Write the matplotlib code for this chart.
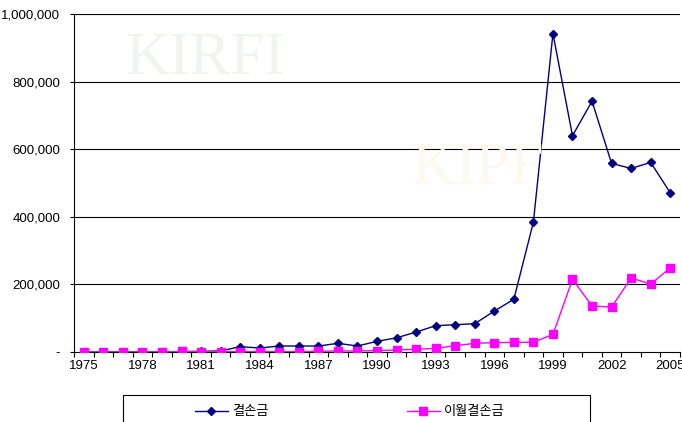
import matplotlib.pyplot as plt
import numpy as np
from matplotlib.ticker import FuncFormatter
from matplotlib.patches import Rectangle

plt.rcParams['font.family'] = ['Liberation Sans', 'Noto Sans CJK KR']

# data
years = list(range(1975, 2006))
loss = [0, 0, 0, 0, 0, 1000, 2000, 3000, 15800, 11800, 17700, 17700, 17700,
        25700, 17700, 31600, 42000, 59000, 77800, 80800, 83700, 121000,
        156000, 384000, 942000, 640000, 742000, 558000, 543000, 561000, 471000]
carried = [0, 0, 0, 0, 0, 1500, 1000, 1000, 1000, 1000, 1000, 1000, 2000,
           3000, 3000, 4000, 6000, 7900, 10800, 18700, 25600, 27600,
           28700, 28700, 52000, 215000, 136000, 133000, 219000, 201000, 249000]
labels = ['결손금', '이월결손금']

x = np.arange(len(years))

fig = plt.figure(figsize=(6.82, 4.22), dpi=100)
ax = fig.add_axes([74/682, 1 - 352/422, 606/682, 338/422])

# faint watermark
fig.text(0.30, 0.86, 'KIRFI', fontsize=44, color='#f2f5ef', family='Liberation Serif',
         ha='center', va='center', zorder=0)
fig.text(0.70, 0.60, 'KIPF', fontsize=44, color='#fdf9ee', family='Liberation Serif',
         ha='center', va='center', zorder=0)

for v in range(200000, 1000001, 200000):
    ax.axhline(v, color='black', lw=0.8, zorder=1)

ax.plot(x, loss, color='#000080', marker='D', markersize=4.5, lw=1, label=labels[0], zorder=3)
ax.plot(x, carried, color='#ff00ff', marker='s', markersize=6, lw=1, label=labels[1], zorder=3)

ax.set_xlim(-0.5, len(years) - 0.5)
ax.set_ylim(0, 1000000)
ax.patch.set_alpha(0)

ax.set_xticks(x[::3])
ax.set_xticklabels([str(y) for y in years[::3]])
ax.set_xticks(np.arange(-0.5, len(years), 1), minor=True)
ax.tick_params(axis='x', which='major', length=0, pad=6, labelsize=9.5)
ax.tick_params(axis='x', which='minor', length=3.5, direction='out', width=0.8)

ax.set_yticks(range(0, 1000001, 200000))
ax.yaxis.set_major_formatter(FuncFormatter(lambda v, p: '-' if v == 0 else f'{int(v):,}'))
ax.tick_params(axis='y', length=3, direction='out', width=0.8, labelsize=9.5, pad=7)

for s in ['top', 'right']:
    ax.spines[s].set_visible(False)
for s in ['left', 'bottom']:
    ax.spines[s].set_linewidth(0.8)
    ax.spines[s].set_color('black')

# legend box (cut off at the bottom edge, as in the source)
fig.patches.append(Rectangle((123/682, -0.05), 467/682, 0.05 + 27/422,
                             transform=fig.transFigure, fill=False,
                             edgecolor='black', lw=0.8))
leg = fig.legend(loc='center left', bbox_to_anchor=(183/682, 1 - 412/422),
                 ncol=2, frameon=False, fontsize=9.5, handlelength=2.5,
                 handletextpad=0.3, columnspacing=10.5)

fig.savefig('out.png', dpi=100)
